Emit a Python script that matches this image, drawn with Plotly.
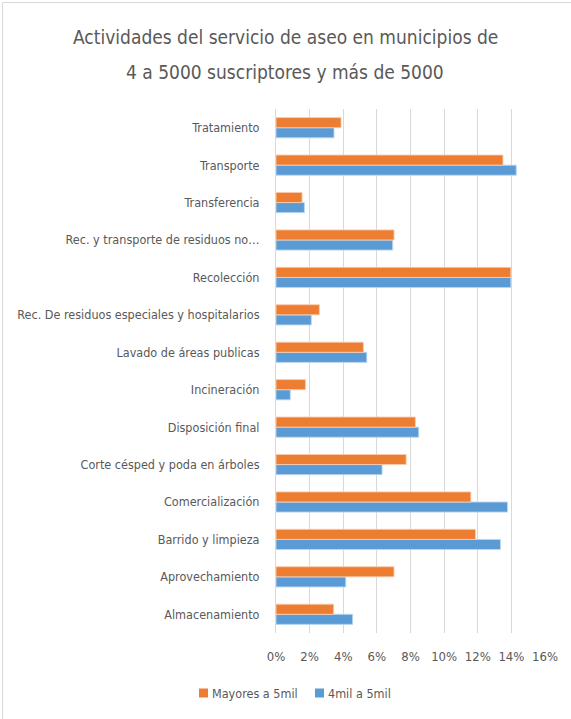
import plotly.graph_objects as go

# Categories listed bottom-to-top (as drawn)
categories = [
    "Almacenamiento",
    "Aprovechamiento",
    "Barrido y limpieza",
    "Comercialización",
    "Corte césped y poda en árboles",
    "Disposición final",
    "Incineración",
    "Lavado de áreas publicas",
    "Rec. De residuos especiales y hospitalarios",
    "Recolección",
    "Rec. y transporte de residuos no…",
    "Transferencia",
    "Transporte",
    "Tratamiento",
]
mayores_5mil = [3.43, 7.02, 11.87, 11.59, 7.74, 8.29, 1.75, 5.2, 2.58, 13.97, 7.02, 1.55, 13.5, 3.87]
de4mil_a_5mil = [4.56, 4.15, 13.35, 13.77, 6.31, 8.49, 0.85, 5.4, 2.1, 13.97, 6.94, 1.69, 14.29, 3.45]
x_ticks = [0, 2, 4, 6, 8, 10, 12, 14, 16]
series_names = ["Mayores a 5mil", "4mil a 5mil"]
series_colors = ["#ED7D31", "#5B9BD5"]

FONT = "DejaVu Sans Condensed, Liberation Sans Narrow, Open Sans, sans-serif"
TXT = "#595959"

W, H = 571, 719
L, R, T, B = 276, 26, 109, 86
pw, ph = W - L - R, H - T - B


def px_x(p):
    return (p - L) / pw


def px_y(p):
    return (H - B - p) / ph


fig = go.Figure()
fig.add_trace(go.Bar(
    y=categories, x=de4mil_a_5mil, orientation="h", name=series_names[1],
    marker=dict(color=series_colors[1], line=dict(color="rgba(189,215,238,0.9)", width=1)),
    showlegend=False,
))
fig.add_trace(go.Bar(
    y=categories, x=mayores_5mil, orientation="h", name=series_names[0],
    marker=dict(color=series_colors[0], line=dict(color="rgba(248,203,173,0.9)", width=1)),
    showlegend=False,
))

fig.update_layout(
    width=W, height=H,
    margin=dict(l=L, r=R, t=T, b=B, pad=0, autoexpand=False),
    paper_bgcolor="white", plot_bgcolor="white",
    barmode="group", bargap=0.46, bargroupgap=0,
    font=dict(family=FONT, size=12.5, color=TXT),
    showlegend=False,
    xaxis=dict(range=[0, 16], tickvals=x_ticks, ticktext=[f"{v}%" for v in x_ticks],
               showgrid=True, gridcolor="#D9D9D9", gridwidth=1, zeroline=False,
               showline=False, ticks="", ticklabelstandoff=14, automargin=False,
               tickfont=dict(family=FONT, size=13, color=TXT), fixedrange=True),
    yaxis=dict(type="category", categoryorder="array", categoryarray=categories,
               showgrid=False, showline=True, linecolor="#D9D9D9", linewidth=1,
               ticks="", ticklabelstandoff=13, automargin=False,
               tickfont=dict(family=FONT, size=12.5, color=TXT)),
)

fig.add_annotation(text="Actividades del servicio de aseo en municipios de", xref="paper", yref="paper",
                   x=px_x(285), y=px_y(37), xanchor="center", yanchor="middle", showarrow=False,
                   font=dict(family=FONT, size=19, color=TXT))
fig.add_annotation(text="4 a 5000 suscriptores y más de 5000", xref="paper", yref="paper",
                   x=px_x(285), y=px_y(72), xanchor="center", yanchor="middle", showarrow=False,
                   font=dict(family=FONT, size=19, color=TXT))

# custom legend (swatch + text), positioned like the reference
legend_swatch_x = [199, 315]
for name, color, sx in zip(series_names, series_colors, legend_swatch_x):
    fig.add_shape(type="rect", xref="paper", yref="paper",
                  x0=px_x(sx), x1=px_x(sx + 9), y0=px_y(697.5), y1=px_y(688.5),
                  line=dict(width=0), fillcolor=color)
    fig.add_annotation(text=name, xref="paper", yref="paper", x=px_x(sx + 11), y=px_y(693),
                       xanchor="left", yanchor="middle", showarrow=False,
                       font=dict(family=FONT, size=12.5, color=TXT))

fig.add_shape(type="rect", xref="paper", yref="paper",
              x0=px_x(2.5), x1=px_x(620), y0=px_y(2.5), y1=px_y(760),
              line=dict(color="#D9D9D9", width=1), fillcolor="rgba(0,0,0,0)", layer="below")

fig.write_html("out.html")
